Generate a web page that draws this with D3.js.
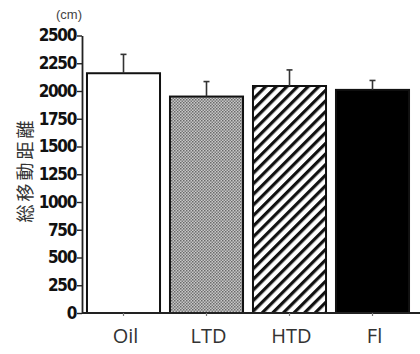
<!DOCTYPE html>
<html>
<head>
<meta charset="utf-8">
<script src="https://cdn.jsdelivr.net/npm/d3@7"></script>
<style>
  html, body { margin: 0; padding: 0; background: #fff; }
  svg { display: block; }
</style>
</head>
<body>
<svg id="chart" width="420" height="354"></svg>
<script>
// Total distance travelled per group (mean ± SE, cm)
const groups = ["Oil", "LTD", "HTD", "Fl"];
const means = [2160, 1950, 2045, 2010];
const errors = [170, 135, 145, 85];
const yTicks = [0, 250, 500, 750, 1000, 1250, 1500, 1750, 2000, 2250, 2500];
const yTitle = "総移動距離";
const unit = "(cm)";

const svg = d3.select("#chart");
const defs = svg.append("defs");

// Fine grey dot texture
const dots = defs.append("pattern")
  .attr("id", "dots").attr("patternUnits", "userSpaceOnUse")
  .attr("width", 3).attr("height", 3);
dots.append("rect").attr("width", 3).attr("height", 3).attr("fill", "#c8c8c8");
dots.append("rect").attr("width", 1.5).attr("height", 1.5).attr("fill", "#6a6a6a");
dots.append("rect").attr("x", 1.5).attr("y", 1.5).attr("width", 1.5).attr("height", 1.5).attr("fill", "#7a7a7a");

// Diagonal hatching
const hatch = defs.append("pattern")
  .attr("id", "hatch").attr("patternUnits", "userSpaceOnUse")
  .attr("width", 7.5).attr("height", 7.5)
  .attr("patternTransform", "rotate(45)");
hatch.append("rect").attr("width", 7.5).attr("height", 7.5).attr("fill", "#fff");
hatch.append("rect").attr("width", 3.2).attr("height", 7.5).attr("fill", "#111");

const fills = ["#fff", "url(#dots)", "url(#hatch)", "#000"];

const x = d3.scaleBand().domain(groups).range([82, 414]).paddingInner(0.12).paddingOuter(0.06);
const y = d3.scaleLinear().domain([0, 2500]).range([313, 35.5]);

// Y axis
const yAxis = svg.append("g")
  .attr("transform", "translate(82,0)")
  .call(d3.axisLeft(y).tickValues(yTicks).tickFormat(d3.format("d"))
    .tickSize(5).tickPadding(1).tickSizeOuter(0));
yAxis.select(".domain").attr("stroke", "#222").attr("stroke-width", 1.8);
yAxis.selectAll(".tick line").attr("stroke", "#222").attr("stroke-width", 1.4);
yAxis.selectAll(".tick text")
  .attr("fill", "#111")
  .style("font-family", "'DejaVu Sans Condensed', 'DejaVu Sans', sans-serif")
  .style("font-stretch", "condensed")
  .style("font-weight", "bold")
  .style("font-size", "17px")
  .style("letter-spacing", "-1.3px");

// Bars
svg.append("g").selectAll("rect")
  .data(groups)
  .join("rect")
  .attr("x", d => x(d))
  .attr("y", (d, i) => y(means[i]))
  .attr("width", x.bandwidth())
  .attr("height", (d, i) => y(0) - y(means[i]))
  .attr("fill", (d, i) => fills[i])
  .attr("stroke", "#111")
  .attr("stroke-width", 2);

// Error bars (upper only)
const eb = svg.append("g").attr("stroke", "#333").attr("stroke-width", 1.6);
eb.selectAll("line.v")
  .data(groups)
  .join("line").attr("class", "v")
  .attr("x1", d => x(d) + x.bandwidth() / 2)
  .attr("x2", d => x(d) + x.bandwidth() / 2)
  .attr("y1", (d, i) => y(means[i]))
  .attr("y2", (d, i) => y(means[i] + errors[i]));
eb.selectAll("line.c")
  .data(groups)
  .join("line").attr("class", "c")
  .attr("x1", d => x(d) + x.bandwidth() / 2 - 3)
  .attr("x2", d => x(d) + x.bandwidth() / 2 + 3)
  .attr("y1", (d, i) => y(means[i] + errors[i]))
  .attr("y2", (d, i) => y(means[i] + errors[i]));

// X axis
const xAxis = svg.append("g")
  .attr("transform", `translate(0,${y(0)})`)
  .call(d3.axisBottom(x).tickSize(3).tickPadding(13).tickSizeOuter(0));
xAxis.select(".domain").attr("d", `M82,0H420`).attr("stroke", "#222").attr("stroke-width", 1.8);
xAxis.selectAll(".tick line").attr("stroke", "#777").attr("stroke-width", 1.2);
xAxis.selectAll(".tick text")
  .attr("fill", "#333")
  .attr("dx", 2)
  .style("font-family", "'Open Sans', 'Liberation Sans', sans-serif")
  .style("font-size", "20px");

// Unit label
svg.append("text")
  .attr("x", 69).attr("y", 19)
  .attr("text-anchor", "middle")
  .attr("fill", "#444")
  .style("font-family", "'Liberation Sans', sans-serif")
  .style("font-size", "13px")
  .text(unit);

// Y title (rotated)
svg.append("text")
  .attr("transform", "translate(32,170) rotate(-90)")
  .attr("text-anchor", "middle")
  .attr("fill", "#333")
  .style("font-family", "'Noto Sans CJK JP', sans-serif")
  .style("font-size", "18px")
  .style("letter-spacing", "3px")
  .text(yTitle);
</script>
</body>
</html>
